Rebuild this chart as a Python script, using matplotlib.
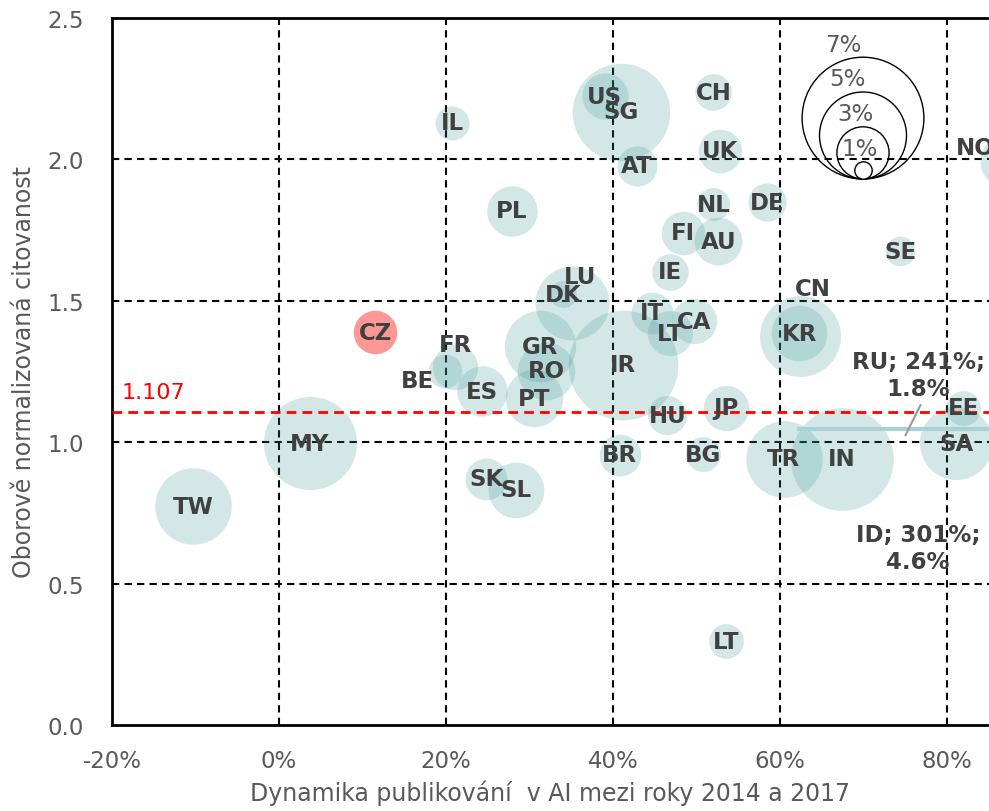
import numpy as np
import matplotlib
matplotlib.use("Agg")
import matplotlib.pyplot as plt
from matplotlib.ticker import FuncFormatter

# data: growth 2014-2017, normalized citation, AI share (%)
countries = ["TW", "MY", "CZ", "BE", "FR", "ES", "PT", "RO", "GR", "LU", "DK",
             "IR", "IT", "LT", "CA", "HU", "JP", "BR", "BG", "SK", "SL", "LT",
             "SG", "US", "AT", "CH", "UK", "NL", "DE", "FI", "AU", "IE", "PL",
             "IL", "SE", "CN", "KR", "TR", "IN", "SA", "EE", "NO"]
growth = [-0.103, 0.037, 0.115, 0.199, 0.211, 0.243, 0.305, 0.320, 0.313, 0.351, 0.340,
          0.412, 0.447, 0.468, 0.497, 0.465, 0.535, 0.408, 0.508, 0.248, 0.284, 0.535,
          0.410, 0.390, 0.428, 0.520, 0.528, 0.520, 0.584, 0.484, 0.526, 0.468, 0.279,
          0.207, 0.744, 0.624, 0.623, 0.604, 0.674, 0.811, 0.819, 0.870]
citation = [0.774, 0.997, 1.388, 1.252, 1.266, 1.181, 1.156, 1.252, 1.340, 1.492, 1.524,
            1.273, 1.457, 1.386, 1.428, 1.096, 1.121, 0.955, 0.958, 0.870, 0.831, 0.297,
            2.168, 2.224, 1.977, 2.238, 2.030, 1.842, 1.849, 1.740, 1.711, 1.602, 1.818,
            2.129, 1.676, 1.376, 1.386, 0.941, 0.941, 0.997, 1.121, 1.994]
share = [4.4, 5.35, 2.5, 1.95, 2.6, 2.9, 3.3, 3.3, 4.1, 4.25, 1.55,
         6.3, 2.4, 2.6, 2.6, 2.25, 2.6, 2.4, 2.0, 2.4, 3.2, 2.0,
         5.6, 2.65, 2.3, 2.1, 2.5, 1.9, 2.2, 2.5, 2.75, 2.1, 2.9,
         1.95, 1.7, 4.65, 3.2, 4.4, 5.9, 4.2, 2.0, 3.0]
# label offsets (points) for labels moved off the bubble centre
label_dx = {"BE": -20, "FR": 0, "LU": 6, "CN": 9, "NO": -22}
label_dy = {"BE": -7, "FR": 16, "LU": 19, "CN": 34, "NO": 10}

highlight = "CZ"
mean_citation = 1.107
legend_sizes = [7, 5, 3, 1]
outliers = [("RU", 2.41, 1.8), ("ID", 3.01, 4.6)]

px_per_pct = 17.4          # bubble diameter in pixels per 1 % share
dpi = 100

def bubble_s(p):
    return (p * px_per_pct * 72.0 / dpi) ** 2

fig = plt.figure(figsize=(9.89, 8.12), dpi=dpi)
ax = fig.add_axes([112/989, 1-726/812, 1-112/989, (726-19)/812])
ax.set_xlim(-0.2, 0.85)
ax.set_ylim(0, 2.5)

grey = "#595959"
lab = "#404040"

# grid
for gx in [0.0, 0.2, 0.4, 0.6, 0.8]:
    ax.axvline(gx, color="black", lw=1.5, dashes=(3.5, 2.5), zorder=1)
for gy in [0.5, 1.0, 1.5, 2.0]:
    ax.axhline(gy, color="black", lw=1.5, dashes=(3.5, 2.5), zorder=1)

# bubbles
cols = ["#ff1a1a" if c == highlight else "#3c9696" for c in countries]
alphas = [0.45 if c == highlight else 0.22 for c in countries]
for x, y, p, c, a in zip(growth, citation, share, cols, alphas):
    ax.scatter(x, y, s=bubble_s(p), color=c, alpha=a, linewidths=0, zorder=2)

# average line
ax.axhline(mean_citation, color="red", lw=2, dashes=(3.5, 2.2), zorder=3)
ax.text(-0.188, mean_citation + 0.035, f"{mean_citation:.3f}", color="red",
        fontsize=16, va="bottom", ha="left", zorder=5)

# teal line + leader for RU label
ax.plot([0.620, 0.86], [1.047, 1.047], color="#a9d2d6", lw=3, zorder=3,
        solid_capstyle="butt")
ax.plot([0.750, 0.768], [1.025, 1.131], color="#9a9a9a", lw=1.5, zorder=3)

for name, g, s in outliers:
    ypos = 1.237 if name == "RU" else 0.625
    ax.text(0.765, ypos, f"{name}; {g*100:.0f}%;\n{s}%", ha="center", va="center",
            fontsize=16.5, fontweight="bold", color=lab, linespacing=1.2, zorder=6)

# labels
for x, y, c in zip(growth, citation, countries):
    ax.annotate(c, (x, y), xytext=(label_dx.get(c, 0), label_dy.get(c, 0)),
                textcoords="offset points", ha="center", va="center",
                fontsize=16.5, fontweight="bold", color=lab, zorder=6,
                annotation_clip=False)

# size legend (drawn in pixel space around a bottom anchor)
fig.canvas.draw()
inv = ax.transData.inverted()
base_px = (863, 812 - 180)
for p, lx in zip(legend_sizes, [-20, -16, -8, -3]):
    r = p * px_per_pct / 2
    cx, cy = inv.transform((base_px[0], base_px[1] + r))
    ax.scatter(cx, cy, s=bubble_s(p), facecolors="white" if p == 1 else "none",
               edgecolors="black", linewidths=1.0, zorder=4)
    tx, ty = inv.transform((base_px[0] + lx, base_px[1] + 2 * r + 13))
    ax.text(tx, ty, f"{p}%", ha="center", va="center", fontsize=16.5,
            color=grey, zorder=6)

# axes style
for side in ["left", "bottom", "top"]:
    ax.spines[side].set_linewidth(2)
    ax.spines[side].set_color("black")
ax.spines["right"].set_visible(False)
ax.set_xticks([-0.2, 0.0, 0.2, 0.4, 0.6, 0.8])
ax.set_yticks([0, 0.5, 1.0, 1.5, 2.0, 2.5])
ax.xaxis.set_major_formatter(FuncFormatter(lambda v, _: f"{v*100:.0f}%"))
ax.yaxis.set_major_formatter(FuncFormatter(lambda v, _: f"{v:.1f}"))
ax.tick_params(length=0, labelsize=16.5, labelcolor=grey, pad=20)
ax.tick_params(axis="x", pad=17)
ax.set_xlabel("Dynamika publikování  v AI mezi roky 2014 a 2017", fontsize=17,
              color=grey, labelpad=6)
ax.set_ylabel("Oborově normalizovaná citovanost", fontsize=17, color=grey,
              labelpad=8)

fig.savefig("out.png", dpi=dpi)
